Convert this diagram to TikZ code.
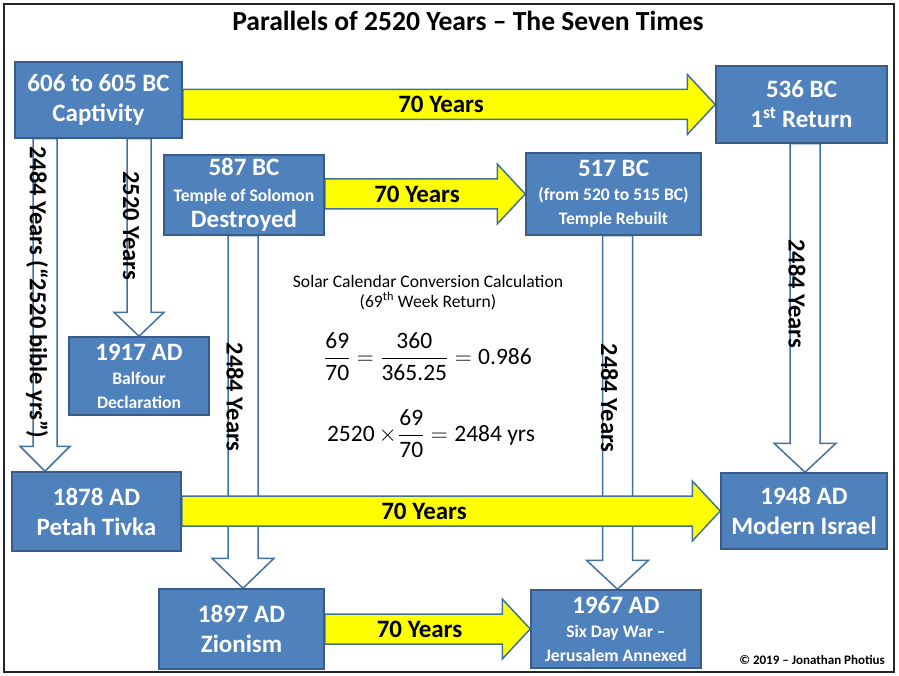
\RequirePackage{fix-cm}
\documentclass[tikz,border=0pt]{standalone}
\usepackage{fontspec}
\setmainfont{Carlito}
\usepackage{amsmath}
\usetikzlibrary{calc}
\pgfdeclarelayer{bg}
\pgfdeclarelayer{vlay}
\pgfdeclarelayer{hlay}
\pgfsetlayers{bg,vlay,hlay,main}
\definecolor{boxfill}{HTML}{4F81BD}
\definecolor{boxline}{HTML}{385D8A}
\definecolor{arrline}{HTML}{41719C}
\definecolor{arrfill}{HTML}{FFFF00}
\tikzset{
  box/.style={draw=boxline, fill=boxfill, line width=1.5pt, text=white,
    font=\bfseries\fontsize{25}{30}\selectfont, align=center, inner sep=0pt},
  yarr/.style={draw=arrline, fill=arrfill, line width=1.5pt, line join=miter},
  warr/.style={draw=arrline, fill=white, line width=1.5pt, line join=miter},
  arrlab/.style={font=\bfseries\fontsize{25}{28}\selectfont, text=black, inner sep=0pt},
  vlab/.style={font=\bfseries\fontsize{24.5}{28}\selectfont, text=black, inner sep=0pt, rotate=-90}
}
\newcommand\smalltxt{\fontsize{17.6}{21}\selectfont}
% yellow block arrow: #1 from, #2 to, #3 label xshift, #4 label name
\newcommand\yarrow[4]{%
  \begin{pgfonlayer}{hlay}
  \draw[yarr] let \p1=(#1.east), \p2=(#2.west) in
    (\x1,{\y2+15pt}) -- ({\x2-28pt},{\y2+15pt}) -- ({\x2-28pt},{\y2+30pt}) -- (\x2,\y2)
    -- ({\x2-28pt},{\y2-30pt}) -- ({\x2-28pt},{\y2-15pt}) -- (\x1,{\y2-15pt}) -- cycle
    node[arrlab, xshift=#3pt] (#4) at ({(\x1+\x2-28pt)/2},\y2) {70 Years};
  \end{pgfonlayer}}
% white block arrow down: #1 from, #2 to, #3 tip dx, #4 shaft half, #5 head half, #6 head len, #7 label, #8 name
\newcommand\varrow[8]{%
  \begin{pgfonlayer}{vlay}
  \draw[warr] let \p1=(#1.south), \p2=($(#2.north)+(#3pt,0pt)$) in
    ({\x2-#4pt},\y1) -- ({\x2-#4pt},{\y2+#6pt}) -- ({\x2-#5pt},{\y2+#6pt}) -- (\x2,\y2)
    -- ({\x2+#5pt},{\y2+#6pt}) -- ({\x2+#4pt},{\y2+#6pt}) -- ({\x2+#4pt},\y1) -- cycle
    node[vlab, yshift=-8pt] (#8) at (\x2,{(\y1+\y2+#6pt)/2}) {#7};
  \end{pgfonlayer}}
\begin{document}
\begin{tikzpicture}[x=1pt,y=-1pt]
\useasboundingbox (0,0) rectangle (899,676);
\begin{pgfonlayer}{bg}
\fill[white] (0,0) rectangle (899,676);
\end{pgfonlayer}
\draw[line width=1.6pt, draw=black!85] (4,4) rectangle (894,672);
\node[font=\bfseries\fontsize{27.6}{32}\selectfont, anchor=base] (title) at (468,31) {Parallels of 2520 Years – The Seven Times};

% boxes
\node[box, minimum width=167pt, minimum height=76pt] (b606) at (98.5,100) {606 to 605 BC\\Captivity};
\node[box, minimum width=171pt, minimum height=77pt] (b536) at (801.5,104.5) {536 BC\\1\textsuperscript{st} Return};
\node[box, minimum width=160pt, minimum height=80pt, font=\bfseries\fontsize{25}{26}\selectfont] (b587) at (244,195) {587 BC\\{\smalltxt Temple of Solomon}\\Destroyed};
\node[box, minimum width=175pt, minimum height=82pt, font=\bfseries\fontsize{25}{24}\selectfont] (b517) at (613.5,194) {517 BC\\{\smalltxt (from 520 to 515 BC)}\\{\smalltxt Temple Rebuilt}};
\node[box, minimum width=140pt, minimum height=78pt, font=\bfseries\fontsize{25}{24}\selectfont] (b1917) at (139,376) {1917 AD\\{\smalltxt Balfour}\\{\smalltxt Declaration}};
\node[box, minimum width=169pt, minimum height=79pt] (b1878) at (96.5,511.5) {1878 AD\\Petah Tivka};
\node[box, minimum width=166pt, minimum height=76pt] (b1948) at (804,511) {1948 AD\\Modern Israel};
\node[box, minimum width=165pt, minimum height=80pt] (b1897) at (241.5,629) {1897 AD\\Zionism};
\node[box, minimum width=170pt, minimum height=78pt, font=\bfseries\fontsize{25}{24}\selectfont] (b1967) at (616,629) {1967 AD\\{\smalltxt Six Day War –}\\{\smalltxt Jerusalem Annexed}};

% yellow arrows
\yarrow{b606}{b536}{6}{l1}
\yarrow{b587}{b517}{6}{l2}
\yarrow{b1878}{b1948}{-13}{l3}
\yarrow{b1897}{b1967}{6}{l4}

% white arrows
\varrow{b606}{b1878}{-51.5}{12}{25}{25}{2484 Years (“2520 bible yrs”)}{v1}
\varrow{b606}{b1917}{0}{12}{25}{24}{2520 Years}{v2}
\varrow{b587}{b1897}{1.5}{15}{31}{30}{2484 Years}{v3}
\varrow{b517}{b1967}{1.5}{15}{31}{29}{2484 Years}{v4}
\varrow{b536}{b1948}{1}{15}{31}{29}{2484 Years}{v5}

% calculation
\node[font=\fontsize{17.6}{21}\selectfont, inner sep=0pt] (solar) at (428,281) {Solar Calendar Conversion Calculation};
\node[font=\fontsize{17.6}{21}\selectfont, inner sep=0pt] (week) at (428,301) {(69\textsuperscript{th} Week Return)};
\node[font=\fontsize{23.5}{28}\selectfont, inner sep=0pt] (eq1) at (428,357) {$\dfrac{\text{69}}{\text{70}}=\dfrac{\text{360}}{\text{365.25}}=\text{0.986}$};
\node[font=\fontsize{23.5}{28}\selectfont, inner sep=0pt] (eq2) at (431,434) {$\text{2520}\mkern3mu{\times}\mkern1mu\dfrac{\text{69}}{\text{70}}=\text{2484 yrs}$};

\node[font=\bfseries\fontsize{13}{15}\selectfont, anchor=east, inner sep=0pt] (copy) at (885,660) {© 2019 – Jonathan Photius};
\end{tikzpicture}
\end{document}
